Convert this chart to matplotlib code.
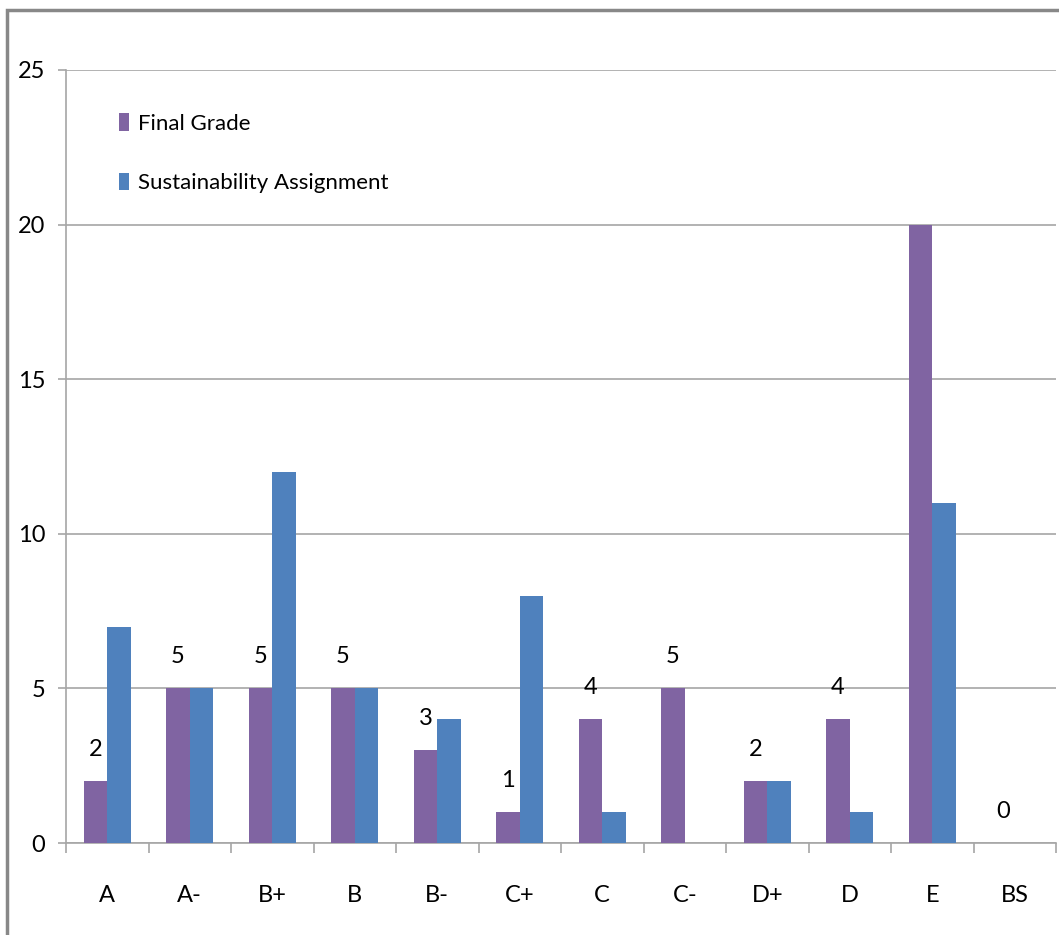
import numpy as np
import matplotlib
matplotlib.use("Agg")
import matplotlib.pyplot as plt
from matplotlib.patches import Rectangle

# dados do gráfico
grades = ["A", "A-", "B+", "B", "B-", "C+", "C", "C-", "D+", "D", "E", "BS"]
final_grade = [2, 5, 5, 5, 3, 1, 4, 5, 2, 4, 20, 0]
sustainability = [7, 5, 12, 5, 4, 8, 1, 0, 2, 1, 11, 0]
# rótulos mostrados acima das barras roxas (E não tem rótulo)
label_idx = [0, 1, 2, 3, 4, 5, 6, 7, 8, 9, 11]

plt.rcParams['font.family'] = ['Lato', 'DejaVu Sans']

purple = "#8064A2"
blue = "#4F81BD"
grid_gray = "#A6A6A6"
fs = 17

fig = plt.figure(figsize=(10.59, 9.35), dpi=100)
ax = fig.add_axes([66 / 1059, 1 - 843 / 935, 990 / 1059, 773 / 935])

x = np.arange(len(grades))
w = 0.285
ax.bar(x - w / 2, final_grade, w, color=purple, label="Final Grade", zorder=3)
ax.bar(x + w / 2, sustainability, w, color=blue, label="Sustainability Assignment", zorder=3)

for i in label_idx:
    ax.annotate(str(final_grade[i]), (x[i] - w / 2, final_grade[i]),
                xytext=(0, 32), textcoords="offset pixels",
                ha="center", va="center", fontsize=fs, zorder=4)

ax.set_xlim(-0.5, len(grades) - 0.5)
ax.set_ylim(0, 25)
ax.set_yticks([0, 5, 10, 15, 20, 25])
ax.yaxis.grid(True, color=grid_gray, linewidth=1.2, zorder=0)

ax.set_xticks(x)
ax.set_xticklabels(grades)
ax.set_xticks(np.arange(len(grades) + 1) - 0.5, minor=True)
ax.tick_params(axis="x", which="major", length=0, pad=30, labelsize=fs)
ax.tick_params(axis="x", which="minor", length=7, width=1.2, color=grid_gray, direction="out")
ax.tick_params(axis="y", length=6, width=1.2, color=grid_gray, pad=9, labelsize=fs)

for s in ["top", "right"]:
    ax.spines[s].set_visible(False)
for s in ["left", "bottom"]:
    ax.spines[s].set_color(grid_gray)
    ax.spines[s].set_linewidth(1.2)

ax.legend(loc="upper left", bbox_to_anchor=(0.033, 0.97), frameon=False,
          fontsize=16, handlelength=0.45, handleheight=0.85, handletextpad=0.4,
          labelspacing=1.75)

# moldura externa
fig.patches.append(Rectangle((7 / 1059, -0.1), 1.2, 1.1 - 10 / 935,
                             transform=fig.transFigure, fill=False,
                             edgecolor="#888888", linewidth=2.5))

fig.savefig("out.png", dpi=100)
